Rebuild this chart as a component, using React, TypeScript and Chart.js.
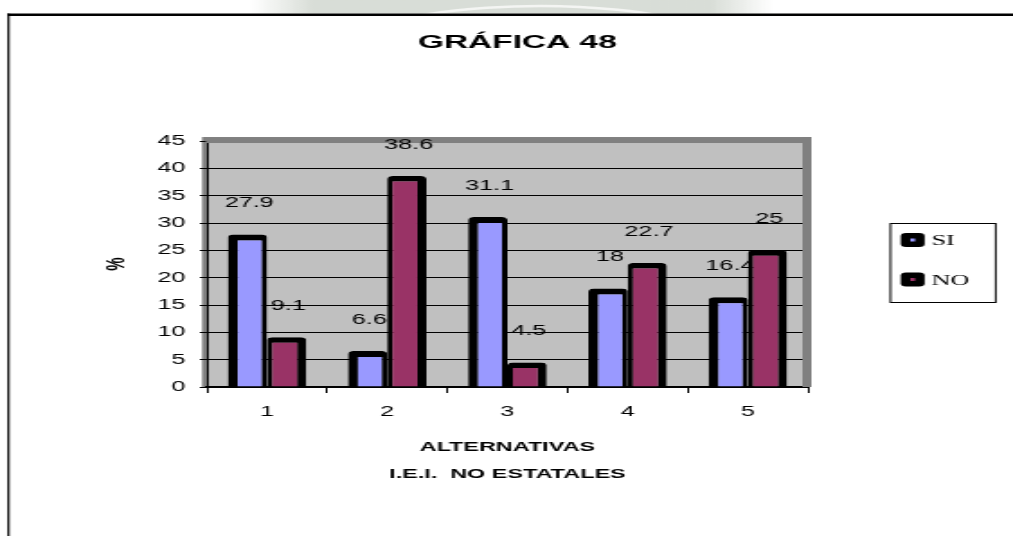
import React, { useEffect, useRef } from 'react';
import { Chart, registerables } from 'chart.js';

Chart.register(...registerables);

// ---- data ----
const categories = ['1', '2', '3', '4', '5'];
const seriesNames = ['SI', 'NO'];
const siValues = [27.9, 6.6, 31.1, 18, 16.4];
const noValues = [9.1, 38.6, 4.5, 22.7, 25];
const seriesColors = ['#9999FF', '#993366'];
const yMin = 0;
const yMax = 45;
const yStep = 5;
const chartTitle = 'GRÁFICA 48';
const xTitle = ['ALTERNATIVAS', 'I.E.I.  NO ESTATALES'];
const yTitle = '%';

// ---- layout (canvas is drawn narrow and stretched horizontally) ----
const W = 1013;
const H = 536;
const CW = 563;
const SX = W / CW;
const SANS = "'Liberation Sans', Arial, sans-serif";
const SERIF = "'Liberation Serif', 'Times New Roman', serif";

const backgroundPlugin = {
  id: 'bgPlugin',
  beforeDraw(chart: any) {
    const { ctx, chartArea: a } = chart;
    ctx.save();
    // faint watermark band at top
    const g = ctx.createLinearGradient(139, 0, 430, 0);
    g.addColorStop(0, 'rgba(200,207,198,0)');
    g.addColorStop(0.12, 'rgba(200,207,198,0.7)');
    g.addColorStop(0.88, 'rgba(200,207,198,0.7)');
    g.addColorStop(1, 'rgba(200,207,198,0)');
    ctx.fillStyle = g;
    ctx.fillRect(139, 0, 291, 13.5);
    ctx.strokeStyle = 'rgba(255,255,255,0.7)';
    ctx.lineWidth = 2.5;
    ctx.beginPath();
    ctx.ellipse(300, 40, 95, 34, 0, Math.PI * 1.15, Math.PI * 1.85);
    ctx.stroke();
    // page frame
    ctx.fillStyle = '#000';
    ctx.fillRect(4.1, 13.5, CW, 2.5);
    ctx.fillRect(4.1, 13.5, 1.2, H);
    // plot area
    ctx.fillStyle = '#808080';
    ctx.fillRect(a.left - 2.7, a.top - 4, 2.7, a.bottom - a.top + 4);
    ctx.fillStyle = '#C0C0C0';
    ctx.fillRect(a.left, a.top, a.right - a.left, a.bottom - a.top);
    ctx.restore();
  },
  beforeDatasetsDraw(chart: any) {
    const { ctx, chartArea: a } = chart;
    ctx.save();
    ctx.fillStyle = '#808080';
    ctx.fillRect(a.left - 0.5, a.top - 4, a.right + 2 - a.left + 0.5, 6);
    ctx.fillRect(a.right - 3, a.top - 4, 5, a.bottom - a.top + 4);
    // value labels (drawn under the bars, as in the original)
    ctx.fillStyle = '#000';
    ctx.font = `14px ${SANS}`;
    ctx.textAlign = 'center';
    ctx.textBaseline = 'middle';
    chart.data.datasets.forEach((ds: any, i: number) => {
      const meta = chart.getDatasetMeta(i);
      meta.data.forEach((el: any, j: number) => {
        ctx.fillText(String(ds.data[j]), el.x + 1, el.y - 31);
      });
    });
    ctx.restore();
  },
};

const legendPlugin = {
  id: 'boxLegend',
  afterDraw(chart: any) {
    const { ctx } = chart;
    const bx = 494.4;
    const by = 223;
    const bw = 59.5;
    const bh = 80;
    ctx.save();
    ctx.fillStyle = '#fff';
    ctx.fillRect(bx, by, bw, bh);
    ctx.strokeStyle = '#000';
    ctx.lineWidth = 1;
    ctx.strokeRect(bx + 0.5, by + 0.5, bw - 1, bh - 1);
    chart.data.datasets.forEach((ds: any, i: number) => {
      const cy = 240 + i * 39.5;
      const mx = 500.6;
      const mw = 13.3;
      ctx.fillStyle = '#000';
      ctx.beginPath();
      ctx.roundRect(mx, cy - 7, mw, 14, 3);
      ctx.fill();
      ctx.fillStyle = ds.backgroundColor;
      ctx.fillRect(mx + mw / 2 - 1.3, cy - 1.5, 2.6, 3);
      ctx.fillStyle = '#000';
      ctx.font = `14.5px ${SERIF}`;
      ctx.textAlign = 'left';
      ctx.textBaseline = 'middle';
      ctx.fillText(ds.label, 517.8, cy + 1.5);
    });
    ctx.restore();
  },
};

export default function App() {
  const ref = useRef<HTMLCanvasElement>(null);

  useEffect(() => {
    document.body.style.margin = '0';
    const canvas = ref.current!;
    const chart = new Chart(canvas, {
      type: 'bar',
      data: {
        labels: categories,
        datasets: [
          {
            label: seriesNames[0],
            data: siValues,
            backgroundColor: seriesColors[0],
            borderColor: '#000',
            borderWidth: { top: 6, left: 5.5, right: 3, bottom: 0 },
            borderSkipped: 'start',
            borderRadius: 3,
            categoryPercentage: 0.652,
            barPercentage: 1,
          },
          {
            label: seriesNames[1],
            data: noValues,
            backgroundColor: seriesColors[1],
            borderColor: '#000',
            borderWidth: { top: 5.5, left: 3, right: 5, bottom: 0 },
            borderSkipped: 'start',
            borderRadius: 3,
            categoryPercentage: 0.652,
            barPercentage: 1,
          },
        ],
      },
      options: {
        responsive: false,
        animation: false,
        devicePixelRatio: 1,
        layout: { padding: { left: 12, right: 0, top: 0, bottom: 0 } },
        plugins: {
          legend: { display: false },
          tooltip: { enabled: false },
          title: {
            display: true,
            text: chartTitle,
            color: '#000',
            font: { family: SANS, size: 18.6, weight: 'bold', lineHeight: 1.2 },
            padding: { top: 31.3, bottom: 87.4 },
          },
        },
        scales: {
          x: {
            type: 'category',
            grid: {
              display: true,
              drawOnChartArea: false,
              drawTicks: true,
              tickLength: 6,
              color: '#000',
              lineWidth: 1,
              offset: true,
            },
            border: { display: true, color: '#000', width: 2 },
            ticks: { color: '#000', font: { family: SANS, size: 14 }, padding: 10.6 },
            title: {
              display: true,
              text: xTitle,
              color: '#000',
              font: { family: SANS, size: 13, weight: 'bold', lineHeight: '27px' },
              padding: { top: 0, bottom: 48.5 },
            },
            afterFit: (s: any) => {
              s.height = 149;
            },
          },
          y: {
            type: 'linear',
            position: 'left',
            min: yMin,
            max: yMax,
            grid: {
              color: '#000',
              tickColor: '#000',
              lineWidth: 1,
              tickLength: 4,
              drawTicks: true,
            },
            border: { display: true, color: '#000', width: 1 },
            ticks: {
              stepSize: yStep,
              color: '#000',
              font: { family: SANS, size: 14 },
              padding: 8,
            },
            title: {
              display: true,
              text: yTitle,
              color: '#000',
              font: { family: SANS, size: 15, weight: 'bold', lineHeight: 1.2 },
              padding: { top: 44.3, bottom: 0 },
            },
            afterFit: (s: any) => {
              s.width = 103;
            },
          },
          legendSpace: {
            type: 'linear',
            position: 'right',
            display: true,
            grid: { display: false, drawTicks: false },
            border: { display: false },
            ticks: { display: false },
            afterFit: (s: any) => {
              s.width = 114;
            },
          },
        },
      } as any,
      plugins: [backgroundPlugin, legendPlugin],
    });
    return () => chart.destroy();
  }, []);

  return (
    <div
      style={{
        position: 'fixed',
        left: 0,
        top: 0,
        width: W,
        height: H,
        overflow: 'hidden',
        background: '#fff',
      }}
    >
      <canvas
        ref={ref}
        width={CW}
        height={H}
        style={{ display: 'block', transform: `scaleX(${SX})`, transformOrigin: '0 0' }}
      />
    </div>
  );
}
